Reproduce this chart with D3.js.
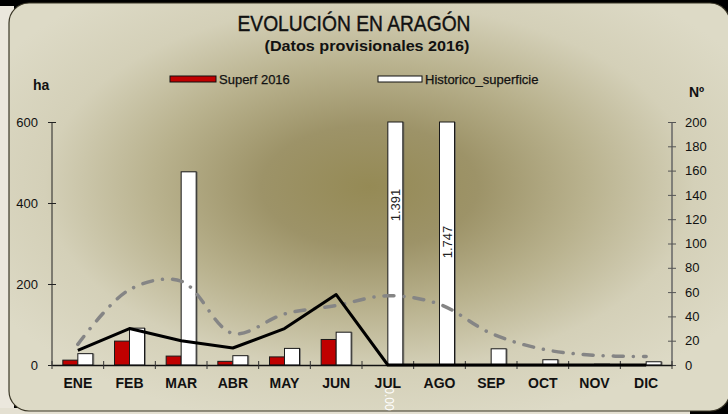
<!DOCTYPE html>
<html lang="es">
<head>
<meta charset="UTF-8"/>
<title>Evolución en Aragón</title>
<script src="https://d3js.org/d3.v7.min.js"></script>
<style>
	body { margin: 0; background: #000; }
	svg { display: block; font-family: Arial, "Liberation Sans", sans-serif; }
</style>
</head>
<body>
<div id="chart"></div>
<script>
	// data
	var months = ["ENE", "FEB", "MAR", "ABR", "MAY", "JUN", "JUL", "AGO", "SEP", "OCT", "NOV", "DIC"];
	var superf2016 = [12, 59, 22, 9, 20, 63, 0, 0, 0, 0, 0, 0];
	var historico = [28, 91, 477, 23, 41, 81, 1391, 1747, 40, 13, 2, 8];
	var num2016 = [12, 30, 20, 14, 30, 58, 0, 0, 0, 0, 0, 0];
	var numHistorico = [17, 62, 69, 26, 42, 49, 57, 50, 26, 13, 8, 7];
	var leftTicks = [0, 200, 400, 600];
	var rightTicks = d3.range(0, 201, 20);

	var w = 728;
	var h = 414;
	var plotL = 52, plotR = 672, plotT = 122, plotB = 365;

	var svg = d3.select("#chart")
		.append("svg")
		.attr("width", w)
		.attr("height", h);

	var defs = svg.append("defs");
	var grad = defs.append("radialGradient")
		.attr("id", "panelGrad")
		.attr("cx", 0.5).attr("cy", 0.45).attr("r", 0.6);
	grad.append("stop").attr("offset", "0%").attr("stop-color", "#958a55");
	grad.append("stop").attr("offset", "25%").attr("stop-color", "#9d9368");
	grad.append("stop").attr("offset", "50%").attr("stop-color", "#b9b28e");
	grad.append("stop").attr("offset", "75%").attr("stop-color", "#d4d0b8");
	grad.append("stop").attr("offset", "100%").attr("stop-color", "#dddac6");

	// slide background: black top/right, light texture on the left
	svg.append("rect").attr("width", w).attr("height", h).attr("fill", "#000");
	svg.append("rect").attr("x", 0).attr("y", 6).attr("width", 14).attr("height", h - 6).attr("fill", "#ebe7dd");
	svg.append("rect").attr("x", 0).attr("y", 408).attr("width", 690).attr("height", 6).attr("fill", "#e4e0d2");

	svg.append("rect")
		.attr("x", 9).attr("y", 3)
		.attr("width", 721).attr("height", 408)
		.attr("rx", 20)
		.attr("fill", "url(#panelGrad)")
		.attr("stroke", "#3a3626")
		.attr("stroke-width", 1.2);

	// titles
	svg.append("text")
		.attr("x", 354).attr("y", 31)
		.attr("text-anchor", "middle")
		.attr("font-size", "22px")
		.attr("font-family", "'Liberation Sans Narrow', Arial, sans-serif")
		.attr("textLength", 233).attr("lengthAdjust", "spacingAndGlyphs")
		.attr("fill", "#111")
		.attr("stroke", "#111").attr("stroke-width", 0.4)
		.text("EVOLUCIÓN EN ARAGÓN");

	svg.append("text")
		.attr("x", 367).attr("y", 51)
		.attr("text-anchor", "middle")
		.attr("font-size", "15px")
		.attr("font-weight", "bold")
		.attr("font-family", "'Liberation Sans Narrow', Arial, sans-serif")
		.attr("textLength", 205).attr("lengthAdjust", "spacingAndGlyphs")
		.attr("fill", "#111")
		.text("(Datos provisionales 2016)");

	svg.append("text").attr("x", 33).attr("y", 90)
		.attr("font-size", "14px").attr("font-weight", "bold").attr("fill", "#111")
		.text("ha");
	svg.append("text").attr("x", 689).attr("y", 97)
		.attr("font-size", "14px").attr("font-weight", "bold").attr("fill", "#111")
		.text("Nº");

	// legend
	var legend = [
		{ label: "Superf 2016", fill: "#c00000", x: 170, w: 46 },
		{ label: "Historico_superficie", fill: "#fff", x: 378, w: 44 }
	];
	var lg = svg.selectAll(".legend")
		.data(legend)
		.enter()
		.append("g");
	lg.append("rect")
		.attr("x", function (d) { return d.x; })
		.attr("y", 76)
		.attr("width", function (d) { return d.w; })
		.attr("height", 6)
		.attr("fill", function (d) { return d.fill; })
		.attr("stroke", "#111")
		.attr("stroke-width", 1);
	lg.append("text")
		.attr("x", function (d) { return d.x + d.w + 3; })
		.attr("y", 84)
		.attr("font-size", "13px")
		.attr("fill", "#111")
		.attr("stroke", "#111").attr("stroke-width", 0.25)
		.text(function (d) { return d.label; });

	// scales
	var xScale = d3.scaleBand()
		.domain(months)
		.range([plotL, plotR]);

	var xSub = d3.scaleBand()
		.domain(["s", "h"])
		.range([0, 30]);

	var yLeft = d3.scaleLinear()
		.domain([0, 600])
		.range([plotB, plotT])
		.clamp(true);

	var yRight = d3.scaleLinear()
		.domain([0, 200])
		.range([plotB, plotT]);

	function cx(m) {
		return xScale(m) + xScale.bandwidth() / 2;
	}

	// bars
	var groups = svg.selectAll(".month")
		.data(months)
		.enter()
		.append("g")
		.attr("transform", function (m) { return "translate(" + (cx(m) - 15) + ",0)"; });

	groups.append("rect")
		.attr("x", xSub("h") + 1.5)
		.attr("y", function (m, i) { return yLeft(historico[i]); })
		.attr("width", xSub.bandwidth())
		.attr("height", function (m, i) { return plotB - yLeft(historico[i]); })
		.attr("fill", "#555")
		.attr("opacity", function (m, i) { return historico[i] > 0 ? 0.6 : 0; });

	groups.append("rect")
		.attr("x", xSub("s"))
		.attr("y", function (m, i) { return yLeft(superf2016[i]); })
		.attr("width", xSub.bandwidth())
		.attr("height", function (m, i) { return plotB - yLeft(superf2016[i]); })
		.attr("fill", "#c00000")
		.attr("stroke", "#1a1a1a")
		.attr("stroke-width", 1)
		.attr("opacity", function (m, i) { return superf2016[i] > 0 ? 1 : 0; });

	groups.append("rect")
		.attr("x", xSub("h"))
		.attr("y", function (m, i) { return yLeft(historico[i]); })
		.attr("width", xSub.bandwidth())
		.attr("height", function (m, i) { return plotB - yLeft(historico[i]); })
		.attr("fill", "#fff")
		.attr("stroke", "#1a1a1a")
		.attr("stroke-width", 1)
		.attr("opacity", function (m, i) { return historico[i] > 0 ? 1 : 0; });

	// labels on the clipped bars
	var bigLabels = [
		{ m: "JUL", v: historico[6], y: 205 },
		{ m: "AGO", v: historico[7], y: 242 }
	];
	svg.selectAll(".big")
		.data(bigLabels)
		.enter()
		.append("text")
		.attr("transform", function (d) {
			return "translate(" + (cx(d.m) + 12) + "," + d.y + ") rotate(-90)";
		})
		.attr("text-anchor", "middle")
		.attr("font-size", "13px")
		.attr("fill", "#222")
		.text(function (d) { return d3.format(",")(d.v).replace(",", "."); });

	svg.append("text")
		.attr("transform", "translate(" + (cx("JUL") - 3) + ",399) rotate(90)")
		.attr("text-anchor", "middle")
		.attr("font-size", "12px")
		.attr("fill", "#fff")
		.text(superf2016[6].toFixed(2));

	// lines
	var blackLine = d3.line()
		.x(function (d, i) { return cx(months[i]); })
		.y(function (d) { return yRight(d); });

	var grayLine = d3.line()
		.x(function (d, i) { return cx(months[i]); })
		.y(function (d) { return yRight(d); })
		.curve(d3.curveCatmullRom.alpha(0.5));

	svg.append("path")
		.datum(numHistorico)
		.attr("d", grayLine)
		.attr("fill", "none")
		.attr("stroke", "#858585")
		.attr("stroke-width", 3.5)
		.attr("stroke-linecap", "round")
		.attr("stroke-dasharray", "10,10,0.1,10");

	// axes
	var axL = svg.append("g")
		.attr("transform", "translate(" + plotL + ",0)")
		.call(d3.axisLeft(yLeft).tickValues(leftTicks).tickSize(4).tickPadding(10));
	axL.select(".domain").attr("stroke", "#222").attr("d", "M0," + plotT + "V" + plotB);
	axL.selectAll(".tick line").attr("x1", 4).attr("stroke", "#222");
	axL.selectAll("text").attr("font-size", "13px").attr("font-family", "Arial, sans-serif").attr("fill", "#111");

	var axR = svg.append("g")
		.attr("transform", "translate(" + plotR + ",0)")
		.call(d3.axisRight(yRight).tickValues(rightTicks).tickSize(4).tickPadding(9));
	axR.select(".domain").attr("stroke", "#666").attr("stroke-width", 1.5).attr("d", "M0," + plotT + "V" + plotB);
	axR.selectAll(".tick line").attr("x1", -4).attr("stroke", "#555");
	axR.selectAll("text").attr("font-size", "13px").attr("font-family", "Arial, sans-serif").attr("fill", "#111");

	var axB = svg.append("g")
		.attr("transform", "translate(0," + plotB + ")")
		.call(d3.axisBottom(xScale).tickSize(0).tickPadding(13));
	axB.select(".domain").attr("stroke", "#111").attr("stroke-width", 1.5);
	axB.selectAll("text").attr("font-size", "14px").attr("font-weight", "bold").attr("font-family", "Arial, sans-serif").attr("fill", "#111");

	var bounds = months.map(function (m) { return xScale(m); }).concat([plotR]);
	svg.selectAll(".btick")
		.data(bounds)
		.enter()
		.append("line")
		.attr("x1", function (d) { return d; })
		.attr("x2", function (d) { return d; })
		.attr("y1", plotB - 4)
		.attr("y2", plotB + 4)
		.attr("stroke", "#333");

	svg.append("path")
		.datum(num2016)
		.attr("d", blackLine)
		.attr("fill", "none")
		.attr("stroke", "#000")
		.attr("stroke-width", 3)
		.attr("stroke-linejoin", "round");
</script>
</body>
</html>
